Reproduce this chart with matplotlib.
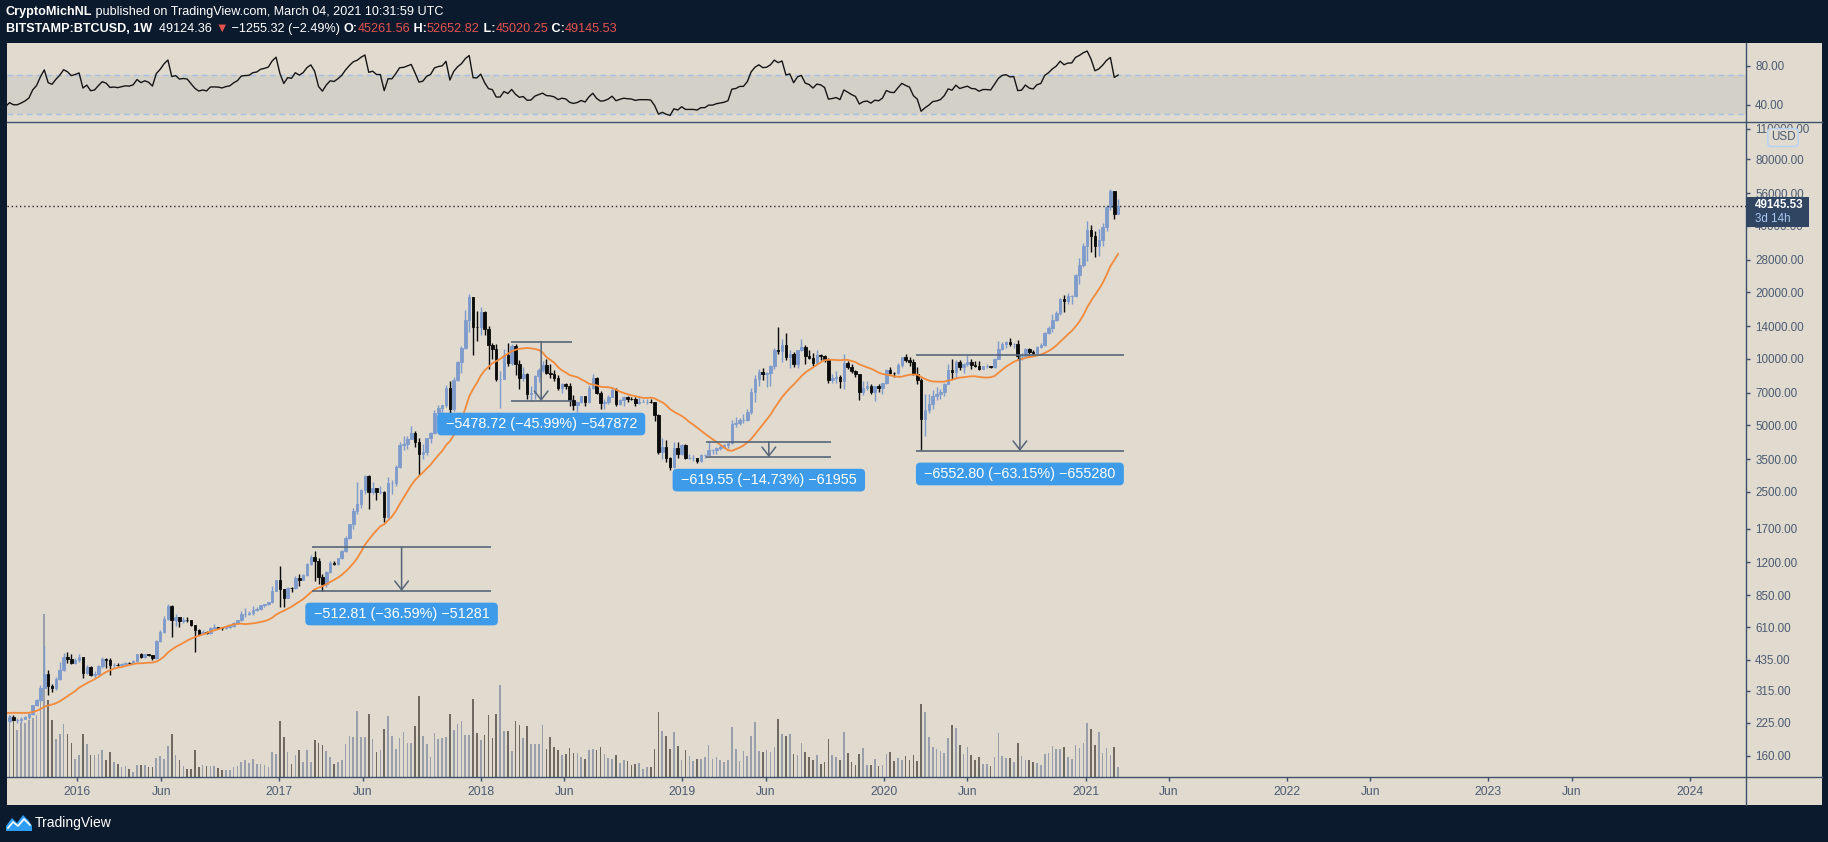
import numpy as np
import matplotlib
matplotlib.use('Agg')
import matplotlib.pyplot as plt
import matplotlib.dates as mdates
from matplotlib.patches import Rectangle, Polygon
from matplotlib.lines import Line2D
from matplotlib.ticker import NullLocator

plt.rcParams['font.family'] = ['Liberation Sans', 'DejaVu Sans']

W, H = 1828, 842

# ---------------- data (weekly BTCUSD, Bitstamp) ----------------
first_week = '2015-08-31'

# closes before the visible range, only used for the MA / RSI warm-up
lead_close = [274, 284, 262, 248, 254, 236, 223, 226, 235, 241, 237, 240, 225,
              228, 233, 244, 257, 270, 290, 275, 290, 281, 264, 261, 228, 229]

close = [
    # 2015
    239, 231, 231, 235, 240, 247, 270, 285, 325, 373, 331, 325, 357, 389, 445, 437, 422, 433,
    # 2016
    447, 380, 402, 371, 376, 407, 439, 432, 410, 413, 410, 416, 421, 420, 427, 459, 448, 459,
    454, 441, 530, 577, 667, 763, 660, 676, 651, 660, 656, 624, 591, 570, 580, 573, 607, 608,
    607, 602, 612, 617, 639, 656, 697, 702, 704, 729, 736, 765, 775, 790, 891, 997,
    # 2017
    905, 830, 920, 915, 1020, 1000, 1050, 1180, 1270, 1210, 1030, 960, 1085, 1190, 1180, 1250,
    1350, 1550, 1780, 2050, 2190, 2550, 2950, 2500, 2600, 2500, 2500, 1930, 2750, 2750, 3250,
    4050, 4100, 4350, 4600, 4200, 3700, 3800, 4360, 4600, 5700, 6000, 6150, 7400, 5900, 8000,
    9700, 11200, 15000, 19000, 13900, 13850,
    # 2018
    16200, 13600, 11500, 11100, 8100, 8100, 10400, 9600, 11400, 9500, 8200, 8500, 6900, 7000,
    8350, 8900, 9400, 8600, 8500, 8200, 7350, 7700, 7500, 6500, 6150, 6350, 6750, 6350, 7400,
    8200, 7000, 6300, 6400, 6700, 7250, 6250, 6500, 6700, 6600, 6550, 6300, 6400, 6400, 6400,
    6350, 5550, 3800, 4000, 3550, 3250, 3950, 3700,
    # 2019
    4050, 3550, 3550, 3550, 3450, 3650, 3650, 3850, 3850, 3950, 4000, 4050, 4150, 5050, 5100,
    5300, 5300, 5750, 7100, 8100, 8750, 8550, 8650, 9300, 11000, 10800, 11500, 10200, 10500,
    9500, 10900, 11300, 10300, 10100, 9600, 10400, 10300, 9950, 8050, 8150, 8300, 7950, 9550,
    9200, 8800, 8500, 7050, 7400, 7500, 7100, 7500, 7400, 7750,
    # 2020
    8900, 8650, 8600, 9350, 10150, 9900, 9700, 8550, 8000, 5350, 5850, 6250, 6800, 6900, 7100,
    7700, 8900, 8700, 9700, 9200, 9450, 9650, 9350, 9300, 9000, 9250, 9250, 9200, 10000, 11050,
    11700, 11850, 11650, 11700, 10250, 10300, 11100, 10750, 10650, 11300, 11500, 13100, 13800,
    15000, 16050, 18650, 18200, 19150, 19250, 23800, 26500, 32200,
    # 2021
    38200, 36000, 32300, 34300, 39250, 48550, 57400, 45261.56, 49145.53,
]

high = [
    243, 245, 236, 238, 241, 249, 272, 290, 335, 502, 390, 337, 364, 424, 468, 469, 459, 440,
    462, 449, 412, 406, 386, 410, 446, 442, 440, 418, 418, 420, 425, 424, 431, 462, 468, 463,
    462, 456, 532, 590, 685, 780, 770, 700, 680, 675, 680, 660, 627, 598, 590, 585, 610, 630,
    612, 612, 614, 620, 642, 660, 720, 745, 722, 757, 755, 770, 780, 795, 935, 1000,
    1150, 910, 930, 930, 1040, 1060, 1060, 1190, 1290, 1352, 1260, 1060, 1100, 1210, 1220, 1260,
    1360, 1580, 1790, 2100, 2760, 2580, 2990, 2980, 2780, 2600, 2650, 2530, 2920, 2830, 3300,
    4200, 4480, 4450, 4980, 4700, 4400, 4100, 4400, 4650, 5860, 6200, 6200, 7600, 7900, 8300,
    9800, 11400, 16600, 19666, 19100, 16500,
    17200, 16400, 14000, 11800, 11700, 8800, 11100, 11750, 11600, 11700, 9900, 9200, 8600, 7500,
    8450, 9050, 9750, 9980, 9450, 8900, 8400, 7750, 7800, 7800, 6850, 6450, 6800, 6800, 7600,
    8500, 8250, 7150, 6600, 6850, 7400, 7400, 6600, 6800, 6800, 6700, 6700, 6750, 6550, 6550,
    6550, 6400, 5600, 4400, 4300, 3600, 4200, 4200,
    4100, 4100, 3700, 3650, 3550, 3700, 3700, 4200, 3900, 4000, 4050, 4100, 4150, 5300, 5450,
    5400, 5650, 5900, 7400, 8400, 8950, 9100, 8750, 9350, 11200, 13900, 12300, 13100, 11000,
    10700, 11000, 12300, 11500, 10900, 10600, 10900, 10500, 10400, 10100, 8500, 8800, 8400, 10500,
    9800, 9500, 8900, 8550, 7900, 7900, 7650, 7550, 7700, 7800,
    8950, 9200, 8700, 9550, 10200, 10500, 10200, 9950, 9200, 8200, 6900, 6950, 7200, 7450, 7300,
    7800, 9450, 10000, 9900, 9850, 9600, 10400, 9950, 9750, 9800, 9300, 9450, 9300, 10100, 12000,
    11900, 12050, 12450, 11750, 12100, 10600, 11150, 11200, 10950, 11450, 11750, 13200, 14100,
    15950, 16450, 18800, 19400, 19900, 19450, 24200, 28450, 33300,
    41950, 40100, 37850, 38500, 40950, 49700, 58350, 57500, 52652.82,
]

low = [
    226, 229, 225, 225, 234, 235, 245, 267, 281, 322, 300, 311, 318, 352, 387, 420, 414, 417,
    426, 360, 375, 365, 360, 370, 400, 400, 370, 400, 406, 405, 412, 415, 418, 425, 440, 444,
    450, 435, 438, 523, 575, 660, 550, 615, 610, 640, 645, 620, 470, 565, 565, 565, 567, 600,
    600, 594, 598, 607, 614, 630, 653, 680, 690, 695, 725, 728, 756, 768, 788, 885,
    750, 755, 828, 880, 912, 940, 995, 1040, 1170, 983, 960, 889, 930, 1075, 1160, 1170,
    1240, 1340, 1530, 1700, 1980, 2100, 2450, 2080, 2450, 2300, 2450, 1830, 1900, 2440, 2650,
    3200, 3850, 3900, 4320, 4000, 2980, 3500, 3650, 4160, 4550, 5100, 5500, 6050, 5500, 5800,
    7900, 8600, 11100, 13150, 10400, 12000,
    12750, 12800, 9000, 10000, 7900, 6000, 8100, 9300, 9400, 8400, 7300, 7900, 6600, 6430,
    6600, 7850, 8700, 8500, 8200, 7900, 7200, 7000, 7300, 6100, 5850, 5750, 6300, 6100, 6300,
    7300, 6900, 5900, 5900, 6250, 6700, 6100, 6200, 6120, 6400, 6500, 6100, 6250, 6350, 6260,
    6300, 5200, 3700, 3500, 3400, 3150, 3200, 3550,
    3650, 3500, 3500, 3450, 3380, 3400, 3550, 3650, 3700, 3700, 3850, 3950, 3950, 4100, 4900,
    5000, 5100, 5250, 5600, 6400, 7500, 8000, 7450, 7550, 8950, 10500, 9650, 9900, 9100,
    9200, 9100, 10800, 9500, 9950, 9300, 9500, 9900, 9700, 7750, 7800, 7800, 7350, 7300,
    9000, 8600, 8300, 6500, 6850, 7200, 6950, 6450, 7050, 6900,
    7700, 8500, 8250, 8550, 9150, 9700, 9300, 8450, 7650, 3850, 4450, 5700, 5900, 6500, 6550,
    6800, 7650, 8100, 8150, 8850, 8650, 9300, 8950, 9150, 8850, 8950, 9100, 9050, 9100, 9950,
    10950, 11150, 11400, 11150, 9900, 9900, 10250, 10150, 10400, 10550, 11200, 11400, 12900,
    13200, 14800, 15800, 16200, 17600, 17600, 19000, 21800, 26050,
    27700, 30400, 28850, 29200, 32300, 37900, 47000, 43000, 45020.25,
]

# weekly volume, thousand BTC
volume_k = [
    62, 55, 47, 54, 54, 57, 59, 62, 77, 163, 77, 57, 38, 43, 53, 43, 34, 18, 22, 43,
    33, 22, 22, 23, 27, 17, 25, 15, 13, 10, 11, 8, 5, 12, 12, 12, 10, 10, 19, 21,
    18, 31, 43, 22, 17, 11, 8, 8, 27, 10, 12, 11, 11, 11, 9, 7, 7, 7, 10, 11,
    15, 17, 14, 18, 13, 13, 12, 10, 25, 23, 56, 40, 25, 13, 22, 27, 15, 27, 15, 37,
    34, 32, 26, 20, 13, 15, 17, 33, 41, 40, 66, 40, 40, 63, 38, 25, 27, 48, 61, 41,
    28, 39, 45, 34, 34, 51, 81, 41, 33, 20, 44, 38, 39, 40, 63, 47, 53, 56, 42, 42,
    78, 44, 37, 42, 62, 39, 63, 92, 46, 46, 26, 56, 52, 39, 51, 33, 33, 33, 52, 28,
    40, 30, 27, 22, 23, 29, 24, 24,
    20, 18, 27, 28, 27, 30, 23, 19, 18, 22, 14, 17, 16, 12, 13, 14, 8, 10, 10, 28,
    65, 46, 41, 28, 45, 31, 17, 27, 21, 16, 18, 18, 20, 32, 18, 20, 17, 15, 17, 50,
    28, 16, 26, 21, 41, 55, 26, 25, 27, 25, 30, 58, 43, 41, 43, 23, 22, 34, 25, 20,
    17, 22, 13, 15, 38, 22, 20, 17, 45, 24, 15, 12, 23, 29, 12, 12, 18, 11, 12, 23,
    25, 16, 19, 17, 21, 17, 22, 16, 73, 65, 40, 30, 28, 26, 24, 39, 52, 49, 32, 23,
    30, 22, 17, 20, 13, 13, 11, 20, 44, 21, 19, 19, 15, 34, 21, 17, 17, 15, 14, 12,
    23, 24, 31, 28, 28, 30, 20, 18, 32, 29, 34, 54, 48, 32, 45, 24, 29, 22, 30, 10,
]

price_ticks = [160, 225, 315, 435, 610, 850, 1200, 1700, 2500, 3500, 5000, 7000, 10000,
               14000, 20000, 28000, 40000, 56000, 80000, 110000]
rsi_ticks = [40, 80]
xtick_dates = ['2016-01-01', '2016-06-01', '2017-01-01', '2017-06-01', '2018-01-01',
               '2018-06-01', '2019-01-01', '2019-06-01', '2020-01-01', '2020-06-01',
               '2021-01-01', '2021-06-01', '2022-01-01', '2022-06-01', '2023-01-01',
               '2023-06-01', '2024-01-01']
xtick_labels = ['2016', 'Jun', '2017', 'Jun', '2018', 'Jun', '2019', 'Jun', '2020', 'Jun',
                '2021', 'Jun', '2022', 'Jun', '2023', 'Jun', '2024']

# price range drawings
rng_start = ['2017-03-02', '2018-02-24', '2019-02-14', '2020-02-29']
rng_end = ['2018-01-19', '2018-06-15', '2019-09-28', '2021-03-11']
rng_top = [1401.62, 11912.94, 4206.04, 10376.57]
rng_bottom = [888.81, 6434.22, 3586.49, 3823.77]
rng_text = ['\u2212512.81 (\u221236.59%) \u221251281',
            '\u22125478.72 (\u221245.99%) \u2212547872',
            '\u2212619.55 (\u221214.73%) \u221261955',
            '\u22126552.80 (\u221263.15%) \u2212655280']

# ---------------- style ----------------
BG = '#e0dacf'
DARK = '#0c1a2d'
AXC = '#3e5169'
LABC = '#4d5b72'
UP = '#7e9bcb'
DOWN = '#0a0a0a'
VUP = '#989eaa'
VDOWN = '#6e6a61'
RNG = '#566678'
BLUE = '#3d9be9'
RED = '#e5534f'


def fx(px):
    return px / W


def fy(py):
    return 1 - py / H


fig = plt.figure(figsize=(W / 100, H / 100), dpi=100, facecolor=DARK)
fig.add_artist(Rectangle((fx(7), fy(805)), fx(1822) - fx(7), (805 - 43.3) / H,
                         transform=fig.transFigure, fc=BG, ec='none', zorder=-10))

L, R = 7, 1745.5
rect_rsi = [fx(L), fy(122), (R - L) / W, (122 - 43.3) / H]
rect_px = [fx(L), fy(777.3), (R - L) / W, (777.3 - 122) / H]

ax_vol = fig.add_axes(rect_px, label='vol')
ax = fig.add_axes(rect_px, label='price', sharex=ax_vol)
ax_rsi = fig.add_axes(rect_rsi, label='rsi')
ax_vol.set_zorder(1)
ax.set_zorder(2)
ax_rsi.set_zorder(1)
for a in (ax_vol, ax, ax_rsi):
    a.patch.set_visible(False)
    for s in a.spines.values():
        s.set_visible(False)

# dates
start = np.datetime64(first_week)
wk = np.timedelta64(7, 'D')
dates = start + wk * np.arange(len(close))
lead_dates = start - wk * np.arange(len(lead_close), 0, -1)
x = mdates.date2num(dates)
all_x = mdates.date2num(np.concatenate([lead_dates, dates]))

c = np.array(close, dtype=float)
hi = np.array(high, dtype=float)
lo = np.array(low, dtype=float)
o = np.r_[lead_close[-1], c[:-1]]
up = c >= o
col = np.where(up, UP, DOWN)

# volume
ax_vol.bar(x, volume_k, width=3.0, color=np.where(up, VUP, VDOWN), lw=0)
ax_vol.set_ylim(0, 655)
ax_vol.tick_params(which='both', bottom=False, labelbottom=False, left=False, labelleft=False)

# candles
ax.vlines(x, lo, hi, colors=col, lw=1.0, zorder=3)
ax.bar(x, np.abs(c - o), bottom=np.minimum(o, c), width=4.6, color=col, edgecolor=col,
       lw=0.6, zorder=3)

# 20 week moving average
allc = np.array(lead_close + close, dtype=float)
ma = np.full(len(allc), np.nan)
for i in range(19, len(allc)):
    ma[i] = allc[i - 19:i + 1].mean()
ax.plot(all_x, ma, color='#f28a3c', lw=1.3, zorder=4)

# last price line
ax.axhline(c[-1], color='#2c2c2a', lw=1, ls=(0, (1, 2)), zorder=4)

ax.set_yscale('log')
ax.set_ylim(127.6, 117800)
ax.yaxis.tick_right()
ax.set_yticks(price_ticks)
ax.set_yticklabels(['%.2f' % v for v in price_ticks])
ax.yaxis.set_minor_locator(NullLocator())
ax.tick_params(axis='y', direction='out', length=3, width=1, color=AXC, labelcolor=LABC,
               labelsize=8.4, pad=4)

x0 = mdates.date2num(np.datetime64('2016-01-01'))
ax.set_xlim(x0 - 127.6, x0 + 3023)
ax.set_xticks(mdates.date2num(np.array(xtick_dates, dtype='datetime64[D]')))
ax.set_xticklabels(xtick_labels)
ax.tick_params(axis='x', direction='out', length=3, width=1, color=AXC, labelcolor=LABC,
               labelsize=8.7, pad=3)

# price range tools
for s, e, t, b, txt in zip(rng_start, rng_end, rng_top, rng_bottom, rng_text):
    xs = mdates.date2num(np.datetime64(s))
    xe = mdates.date2num(np.datetime64(e))
    xm = (xs + xe) / 2
    ax.hlines([t, b], xs, xe, color=RNG, lw=1.2, zorder=6)
    ax.annotate('', xy=(xm, b), xytext=(xm, t),
                arrowprops=dict(arrowstyle='->,head_length=0.45,head_width=0.35', color=RNG,
                                lw=1.1, shrinkA=0, shrinkB=0, mutation_scale=14), zorder=6)
    ax.annotate(' ' + txt + ' ', xy=(xm, b), xytext=(0, -23), textcoords='offset pixels',
                ha='center', va='center', color='white', fontsize=10.4, zorder=7,
                bbox=dict(boxstyle='round,pad=0.3,rounding_size=0.3', fc=BLUE, ec='none'))

# RSI
d = np.diff(allc)
g = np.clip(d, 0, None)
ls_ = np.clip(-d, 0, None)
n = 14
rsi = np.full(len(allc), np.nan)
ag, al = g[:n].mean(), ls_[:n].mean()
rsi[n] = 100 - 100 / (1 + ag / al)
for i in range(n, len(d)):
    ag = (ag * (n - 1) + g[i]) / n
    al = (al * (n - 1) + ls_[i]) / n
    rsi[i + 1] = 100 - 100 / (1 + ag / al)

ax_rsi.axhspan(30, 70, color='#d3d0c7', lw=0, zorder=1)
ax_rsi.axhline(70, color='#a5bfe6', lw=1, ls=(0, (4, 3)), zorder=2)
ax_rsi.axhline(30, color='#a5bfe6', lw=1, ls=(0, (4, 3)), zorder=2)
ax_rsi.plot(all_x, rsi, color='#151515', lw=1.0, zorder=3)
ax_rsi.set_xlim(ax.get_xlim())
ax_rsi.set_ylim(22.1, 102.8)
ax_rsi.set_xticks([])
ax_rsi.yaxis.tick_right()
ax_rsi.set_yticks(rsi_ticks)
ax_rsi.set_yticklabels(['%.2f' % v for v in rsi_ticks])
ax_rsi.tick_params(axis='y', direction='out', length=3, width=1, color=AXC, labelcolor=LABC,
                   labelsize=8.4, pad=4)

# frame lines
for xs_, ys_ in (([L, 1822], [122, 122]), ([L, 1822], [777.3, 777.3]), ([R, R], [43.3, 805])):
    fig.add_artist(Line2D([fx(v) for v in xs_], [fy(v) for v in ys_], transform=fig.transFigure,
                          color=AXC, lw=1, zorder=5))

# last price badge
fig.add_artist(Rectangle((fx(R), fy(227.3)), (1809.3 - R) / W, 30 / H, transform=fig.transFigure,
                         fc='#2f4562', ec='none', zorder=10))
fig.text(fx(1755), fy(205.3), '49145.53', color='white', fontweight='bold', fontsize=8.4,
         va='center', ha='left', zorder=11)
fig.text(fx(1755), fy(219.5), '3d 14h', color='#a9c7ef', fontsize=8.4, va='center', ha='left',
         zorder=11)
fig.text(fx(1783), fy(137.5), 'USD', color=LABC, fontsize=8.4, va='center', ha='center', zorder=11,
         bbox=dict(boxstyle='round,pad=0.25', fc=BG, ec='#b5d3f7', lw=1))

# header
renderer = fig.canvas.get_renderer()


def put_segments(segs, x_px, y_px):
    for txt, color, weight in segs:
        t = fig.text(fx(x_px), fy(y_px), txt, color=color, fontweight=weight, fontsize=9.1,
                     va='center', ha='left')
        x_px += t.get_window_extent(renderer).width


put_segments([('CryptoMichNL', 'white', 'bold'),
              (' published on TradingView.com, March 04, 2021 10:31:59 UTC', 'white', 'normal')],
             6, 12)
put_segments([('BITSTAMP:BTCUSD, 1W', 'white', 'bold'),
              ('  49124.36 ', 'white', 'normal'),
              ('\u25bc', RED, 'normal'),
              (' \u22121255.32 (\u22122.49%) ', 'white', 'normal'),
              ('O:', 'white', 'bold'), ('45261.56', RED, 'normal'),
              (' H:', 'white', 'bold'), ('52652.82', RED, 'normal'),
              (' L:', 'white', 'bold'), ('45020.25', RED, 'normal'),
              (' C:', 'white', 'bold'), ('49145.53', RED, 'normal')],
             6, 29)

# footer logo
logo = [(6, 831), (6, 826), (12, 818), (17, 823), (23, 815), (29, 821), (32, 826), (32, 831)]
fig.add_artist(Polygon([(fx(a), fy(b)) for a, b in logo], closed=True, transform=fig.transFigure,
                       fc='#2e9ef4', ec='none', zorder=5))
fig.add_artist(Line2D([fx(v) for v in (8, 13, 18, 24, 30)], [fy(v) for v in (828, 822, 826, 819, 825)],
                      transform=fig.transFigure, color='white', lw=1.2, zorder=6))
fig.text(fx(35), fy(823), 'TradingView', color='white', fontsize=10, va='center', ha='left')

fig.savefig('out.png', dpi=100, facecolor=DARK)
